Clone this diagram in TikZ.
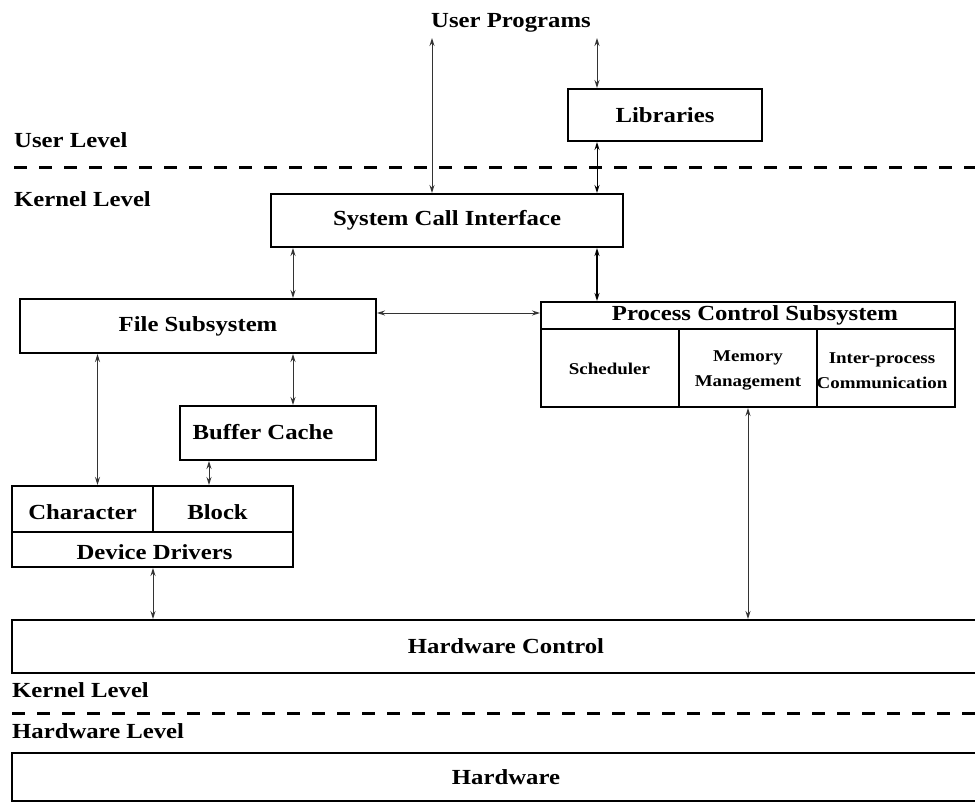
\documentclass[tikz,border=0pt]{standalone}
\usepackage{fontspec}
\setmainfont{Liberation Serif}[FakeStretch=1.15]
\usetikzlibrary{arrows.meta}

\newcommand\bigtxt{\fontsize{21.5}{24}\selectfont\bfseries}
\newcommand\smalltxt{\fontsize{16.5}{25}\selectfont\bfseries}

\tikzset{
  box/.style={draw=black, line width=2pt, rectangle, inner sep=0pt, font=\bigtxt},
  divider/.style={draw=black, line width=1.2pt},
  txt/.style={inner sep=0pt, font=\bigtxt},
  celltxt/.style={inner sep=0pt, font=\smalltxt, align=center},
  levellbl/.style={inner sep=0pt, font=\bigtxt, anchor=west},
  levelline/.style={draw=black, line width=3pt, dash pattern=on 13pt off 12pt},
  arr/.style={draw=black!80, line width=1pt, {Stealth[length=8pt,width=5pt]}-{Stealth[length=8pt,width=5pt]}},
}

\begin{document}
\begin{tikzpicture}[x=1pt, y=-1pt]
  \clip (0,0) rectangle (975,805);
  \fill[white] (0,0) rectangle (975,805);

  % top level
  \node[txt] (up) at (511,23) {User Programs};
  \node[box, minimum width=194, minimum height=52] (lib) at (665,115) {Libraries};

  % level labels and separators
  \node[levellbl] (ulvl) at (14,140) {User Level};
  \node[levellbl] (klvl) at (14,199) {Kernel Level};
  \coordinate (dashA1) at (14,168);
  \coordinate (dashA2) at (975,168);
  \draw[levelline] (dashA1) -- (dashA2);

  % kernel boxes
  \node[box, minimum width=352, minimum height=53] (sci) at (447,220.5) {System Call Interface};
  \node[box, minimum width=356, minimum height=54] (fs) at (198,326) {File Subsystem};
  \node[box, minimum width=196, minimum height=54] (buf) at (278,433) {};
  \node[txt] (buftxt) at (263,432) {Buffer Cache};

  % process control subsystem
  \node[box, minimum width=414, minimum height=105] (pcs) at (748,354.5) {};
  \coordinate (pcsrow) at (0,329);
  \draw[divider] (pcs.west |- pcsrow) -- (pcs.east |- pcsrow);
  \coordinate (pd1) at (679,329);
  \coordinate (pd2) at (817,329);
  \draw[divider] (pd1) -- (pd1 |- pcs.south);
  \draw[divider] (pd2) -- (pd2 |- pcs.south);
  \node[txt] (pcstitle) at (755,315) {Process Control Subsystem};
  \node[celltxt] (sched) at (609.5,369) {Scheduler};
  \node[celltxt] (mem) at (748,370.5) {Memory\\Management};
  \node[celltxt] (ipc) at (882,370.5) {Inter-process\\Communication};

  % device drivers
  \node[box, minimum width=281, minimum height=81] (dd) at (152.5,526.5) {};
  \coordinate (ddrow) at (0,532);
  \draw[divider] (dd.west |- ddrow) -- (dd.east |- ddrow);
  \coordinate (ddv) at (153,532);
  \draw[divider] (ddv) -- (ddv |- dd.north);
  \node[txt] (chr) at (82.5,512) {Character};
  \node[txt] (blk) at (217.5,512) {Block};
  \node[txt] (ddtxt) at (154.5,552) {Device Drivers};

  % hardware control
  \node[box, minimum width=988, minimum height=53] (hwc) at (506,646.5) {Hardware Control};

  \node[levellbl] (klvl2) at (12,690) {Kernel Level};
  \coordinate (dashB1) at (12,713);
  \coordinate (dashB2) at (975,713);
  \draw[levelline] (dashB1) -- (dashB2);
  \node[levellbl] (hlvl) at (12,731) {Hardware Level};

  \node[box, minimum width=988, minimum height=48] (hw) at (506,777) {Hardware};

  % connectors
  \coordinate (upL) at (432,38);
  \coordinate (upR) at (597,38);
  \coordinate (c293) at (293,0);
  \coordinate (c597) at (597,0);
  \coordinate (c97) at (97.5,0);
  \coordinate (c209) at (209,0);
  \coordinate (c153) at (153,0);
  \coordinate (c748) at (748,0);
  \coordinate (r313) at (0,313);

  \draw[arr] (upL) -- (upL |- sci.north);
  \draw[arr] (upR) -- (upR |- lib.north);
  \draw[arr, draw=black] (lib.south -| c597) -- (sci.north -| c597);
  \draw[arr] (sci.south -| c293) -- (fs.north -| c293);
  \draw[arr, draw=black, line width=1.4pt] (sci.south -| c597) -- (pcs.north -| c597);
  \draw[arr] (fs.east |- r313) -- (pcs.west |- r313);
  \draw[arr] (fs.south -| c293) -- (buf.north -| c293);
  \draw[arr] (fs.south -| c97) -- (dd.north -| c97);
  \draw[arr] (buf.south -| c209) -- (dd.north -| c209);
  \draw[arr] (dd.south -| c153) -- (hwc.north -| c153);
  \draw[arr] (pcs.south -| c748) -- (hwc.north -| c748);
\end{tikzpicture}
\end{document}
